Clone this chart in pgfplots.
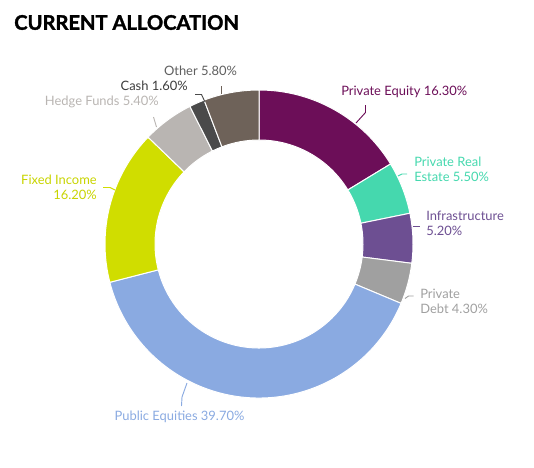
\documentclass[border=0pt]{standalone}
\usepackage{fontspec}
\setmainfont{Lato}
\newfontfamily\heavy{Lato}[BoldFeatures={FakeBold=1.6}]
\usepackage{pgfplots}
\usepackage{pgfplotstable}
\pgfplotsset{compat=1.18}
\usetikzlibrary{calc}

\definecolor{cPE}{RGB}{108,14,88}
\definecolor{cPRE}{RGB}{69,216,174}
\definecolor{cInfra}{RGB}{109,79,146}
\definecolor{cDebt}{RGB}{160,160,160}
\definecolor{cPub}{RGB}{138,170,225}
\definecolor{cFixed}{RGB}{208,221,0}
\definecolor{cHedge}{RGB}{185,181,178}
\definecolor{cCash}{RGB}{74,74,74}
\definecolor{cOther}{RGB}{110,98,89}
\definecolor{tCash}{RGB}{60,60,60}
\definecolor{tOther}{RGB}{95,95,95}
\definecolor{tFixed}{RGB}{200,212,0}

% share of each asset class, clockwise from 12 o'clock
\pgfplotstableread[col sep=comma]{
name,share,colour
Private Equity,16.30,cPE
Private Real Estate,5.50,cPRE
Infrastructure,5.20,cInfra
Private Debt,4.30,cDebt
Public Equities,39.70,cPub
Fixed Income,16.20,cFixed
Hedge Funds,5.40,cHedge
Cash,1.60,cCash
Other,5.80,cOther
}\alloc

\newcommand\lbl{\fontsize{9.7}{11.2}\selectfont}

\begin{document}
\begin{tikzpicture}
\begin{axis}[
    width=400.5pt, height=350.25pt, scale only axis,
    xmin=0, xmax=534, ymin=0, ymax=467, y dir=reverse,
    axis lines=none, clip=false,
]
\path (axis cs:0,0) rectangle (axis cs:534,467);

% donut wedges
\def\acc{0}
\pgfplotsforeachungrouped \i in {0,...,8}{%
  \pgfplotstablegetelem{\i}{share}\of\alloc \let\wval\pgfplotsretval
  \pgfplotstablegetelem{\i}{colour}\of\alloc \let\wcol\pgfplotsretval
  \pgfmathsetmacro\angA{90-3.6*\acc}%
  \pgfmathsetmacro\angB{90-3.6*(\acc+\wval)}%
  \edef\wedge{\noexpand\fill[\wcol,draw=white,line width=0.75pt]
    ($(axis cs:259,244)+(\angA:115.5pt)$)
    arc[start angle=\angA,end angle=\angB,radius=115.5pt]
    -- ($(axis cs:259,244)+(\angB:78pt)$)
    arc[start angle=\angB,end angle=\angA,radius=78pt] -- cycle;}%
  \wedge
  \pgfmathsetmacro\acc{\acc+\wval}%
}

% title
\node[anchor=west, inner sep=0pt, font=\fontsize{15.1}{18}\selectfont\heavy\bfseries]
  at (axis cs:14,22.5) {CURRENT ALLOCATION};

% leader lines
\draw[cPE, line width=0.7pt] (axis cs:356,123) -- (axis cs:365.5,112.5) -- (axis cs:365.5,105);
\draw[cPRE, line width=0.7pt] (axis cs:398,176) -- (axis cs:402,174) -- (axis cs:407,174);
\draw[cInfra, line width=0.7pt] (axis cs:413,226) -- (axis cs:420,226);
\draw[cDebt, line width=0.7pt] (axis cs:405,298.5) -- (axis cs:408.5,296) -- (axis cs:413.5,296);
\draw[cPub, line width=0.7pt] (axis cs:187,383) -- (axis cs:182,397) -- (axis cs:181.5,406);
\draw[cFixed, line width=0.7pt] (axis cs:103,187.5) -- (axis cs:110,187.5) -- (axis cs:115,190);
\draw[cHedge, line width=0.7pt] (axis cs:153.5,117) -- (axis cs:156.5,127);
\draw[cCash, line width=0.7pt] (axis cs:195,94.5) -- (axis cs:201.5,94.5) -- (axis cs:205,102);
\draw[cOther, line width=0.7pt] (axis cs:221.3,86) -- (axis cs:221.3,93.5);

% labels
\node[anchor=west, inner sep=0pt, text=cPE, font=\lbl] at (axis cs:341,92) {Private Equity 16.30\%};
\node[anchor=west, inner sep=0pt, align=left, text=cPRE, font=\lbl] at (axis cs:414,169.5) {Private Real\\Estate 5.50\%};
\node[anchor=west, inner sep=0pt, align=left, text=cInfra, font=\lbl] at (axis cs:426,223.5) {Infrastructure\\5.20\%};
\node[anchor=west, inner sep=0pt, align=left, text=cDebt, font=\lbl] at (axis cs:420,301) {Private\\Debt 4.30\%};
\node[inner sep=0pt, text=cPub, font=\lbl] at (axis cs:179.5,417) {Public Equities 39.70\%};
\node[anchor=east, inner sep=0pt, align=right, text=tFixed, font=\lbl] at (axis cs:97,187) {Fixed Income\\16.20\%};
\node[anchor=east, inner sep=0pt, text=cHedge, font=\lbl] at (axis cs:159,102) {Hedge Funds 5.40\%};
\node[anchor=east, inner sep=0pt, text=tCash, font=\lbl] at (axis cs:188,86) {Cash 1.60\%};
\node[inner sep=0pt, text=tOther, font=\lbl] at (axis cs:200.5,71) {Other 5.80\%};
\end{axis}
\end{tikzpicture}
\end{document}
